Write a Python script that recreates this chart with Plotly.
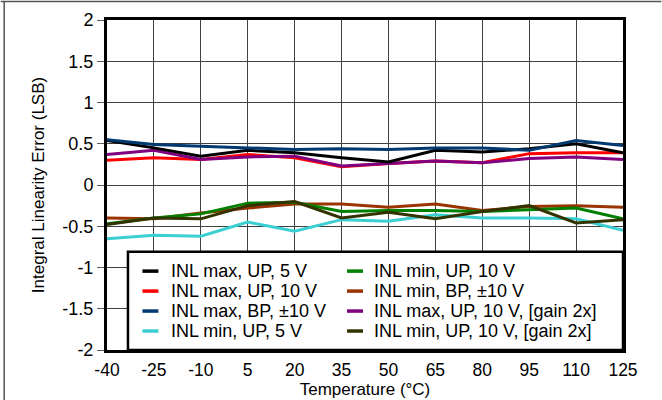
import plotly.graph_objects as go

temps = [-40, -25, -10, 5, 20, 35, 50, 65, 80, 95, 110, 125]

inl_max_up_5v = [0.54, 0.45, 0.35, 0.42, 0.39, 0.33, 0.28, 0.42, 0.40, 0.44, 0.50, 0.39]
inl_max_up_10v = [0.30, 0.33, 0.31, 0.37, 0.33, 0.22, 0.26, 0.29, 0.27, 0.38, 0.39, 0.39]
inl_max_bp_10v = [0.55, 0.49, 0.47, 0.45, 0.43, 0.44, 0.43, 0.45, 0.45, 0.42, 0.54, 0.48]
inl_min_up_5v = [-0.65, -0.61, -0.62, -0.45, -0.56, -0.42, -0.44, -0.36, -0.40, -0.40, -0.41, -0.55]
inl_min_up_10v = [-0.47, -0.40, -0.35, -0.22, -0.21, -0.32, -0.31, -0.31, -0.32, -0.30, -0.28, -0.41]
inl_min_bp_10v = [-0.40, -0.41, -0.34, -0.28, -0.23, -0.23, -0.27, -0.23, -0.31, -0.26, -0.25, -0.27]
inl_max_up_10v_g2 = [0.37, 0.42, 0.31, 0.34, 0.35, 0.23, 0.26, 0.29, 0.27, 0.32, 0.34, 0.31]
inl_min_up_10v_g2 = [-0.48, -0.40, -0.41, -0.25, -0.20, -0.40, -0.33, -0.41, -0.32, -0.25, -0.46, -0.42]

# legend order: column 1 then column 2
series_names = [
    "INL max, UP, 5 V",
    "INL max, UP, 10 V",
    "INL max, BP, \u00b110 V",
    "INL min, UP, 5 V",
    "INL min, UP, 10 V",
    "INL min, BP, \u00b110 V",
    "INL max, UP, 10 V, [gain 2x]",
    "INL min, UP, 10 V, [gain 2x]",
]
series_values = [
    inl_max_up_5v,
    inl_max_up_10v,
    inl_max_bp_10v,
    inl_min_up_5v,
    inl_min_up_10v,
    inl_min_bp_10v,
    inl_max_up_10v_g2,
    inl_min_up_10v_g2,
]
series_colors = [
    "#000000",
    "#FF0000",
    "#003A70",
    "#3CCFD2",
    "#008000",
    "#993300",
    "#800080",
    "#333300",
]
# stacking order (bottom to top)
draw_order = [3, 5, 4, 7, 1, 6, 0, 2]

x_ticks = [-40, -25, -10, 5, 20, 35, 50, 65, 80, 95, 110, 125]
y_ticks = [-2, -1.5, -1, -0.5, 0, 0.5, 1, 1.5, 2]

font_family = "Liberation Sans, Arial, sans-serif"

# pixel layout of the figure
W, H = 662, 400
PL, PR, PT, PB = 106.5, 623.5, 19.5, 350.0
PW, PH = PR - PL, PB - PT


def px_x(px):
    return (px - PL) / PW


def px_y(py):
    return (PB - py) / PH


fig = go.Figure()
for i in draw_order:
    fig.add_trace(go.Scatter(
        x=temps, y=series_values[i], mode="lines", name=series_names[i],
        line=dict(color=series_colors[i], width=3),
        showlegend=False,
    ))

shapes = [
    # legend box
    dict(type="rect", xref="paper", yref="paper",
         x0=px_x(127.5), x1=1.0, y0=0.0, y1=px_y(251.7),
         fillcolor="white", line=dict(color="black", width=2.5), layer="above"),
    # outer frame lines (top and left)
    dict(type="line", xref="paper", yref="paper",
         x0=px_x(0), x1=px_x(W), y0=px_y(1.0), y1=px_y(1.0),
         line=dict(color="#555555", width=1.5), layer="above"),
    dict(type="line", xref="paper", yref="paper",
         x0=px_x(3.5), x1=px_x(3.5), y0=px_y(H), y1=px_y(1),
         line=dict(color="#555555", width=1.5), layer="above"),
]
annotations = []

row_y = [271, 291, 311, 331]
col_sym_x = [(142, 158), (347, 363)]
col_text_x = [169, 372]
for k, name in enumerate(series_names):
    col, row = divmod(k, 4)
    yy = px_y(row_y[row])
    shapes.append(dict(
        type="line", xref="paper", yref="paper",
        x0=px_x(col_sym_x[col][0]), x1=px_x(col_sym_x[col][1]), y0=yy, y1=yy,
        line=dict(color=series_colors[k], width=3.5), layer="above"))
    annotations.append(dict(
        xref="paper", yref="paper", x=px_x(col_text_x[col]), y=yy,
        xanchor="left", yanchor="middle", showarrow=False, text=name,
        font=dict(size=18, family=font_family, color="black")))

fig.update_layout(
    width=W, height=H,
    margin=dict(l=PL, r=W - PR, t=PT, b=H - PB, autoexpand=False),
    paper_bgcolor="white", plot_bgcolor="white",
    font=dict(family=font_family, size=18, color="black"),
    showlegend=False,
    xaxis=dict(
        range=[-40, 125], tickmode="array", tickvals=x_ticks,
        ticktext=[str(v) for v in x_ticks],
        tickfont=dict(size=17.5),
        showgrid=True, gridcolor="#404040", gridwidth=1,
        showline=True, linecolor="black", linewidth=3, mirror=True,
        ticks="", ticklabelstandoff=2,
        title=dict(text="Temperature (\u00b0C)", font=dict(size=17), standoff=0),
        zeroline=False, automargin=False,
    ),
    yaxis=dict(
        range=[-2, 2], tickmode="array", tickvals=y_ticks,
        ticktext=[f"{v:g}" for v in y_ticks],
        showgrid=True, gridcolor="#404040", gridwidth=1,
        showline=True, linecolor="black", linewidth=3, mirror=True,
        ticks="outside", ticklen=7, tickcolor="#606060", tickwidth=1,
        title=dict(text="Integral Linearity Error (LSB)", font=dict(size=17), standoff=14),
        zeroline=False, automargin=False,
    ),
    shapes=shapes,
    annotations=annotations,
)

fig.write_html("out.html", config={"displayModeBar": False},
               post_script="document.body.style.margin='0';")
